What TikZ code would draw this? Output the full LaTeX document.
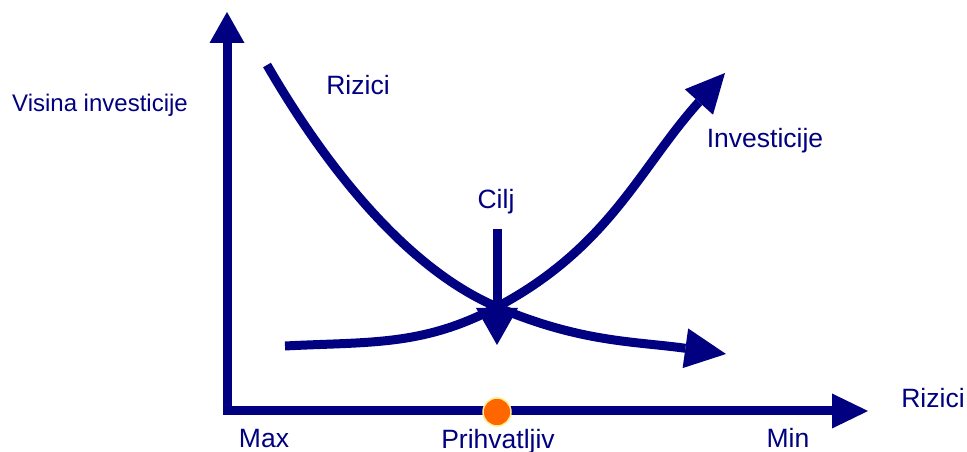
\documentclass[tikz,border=0pt]{standalone}
\usepackage{fontspec}
\setmainfont{Liberation Sans}
\usetikzlibrary{arrows.meta}

\definecolor{navy}{RGB}{0,0,128}
\definecolor{okorange}{RGB}{255,102,0}
\definecolor{okrim}{RGB}{255,236,140}

\begin{document}
\begin{tikzpicture}[
  x=1pt, y=1pt,
  lbl/.style={text=navy, inner sep=0pt, anchor=base, font=\fontsize{26.5}{30}\selectfont},
  axis/.style={draw=navy, line width=9pt},
  curve/.style={draw=navy, line width=9pt},
  okdot/.style={circle, fill=okorange, draw=okrim, line width=1.5pt, minimum size=28pt, inner sep=0pt},
]
\useasboundingbox (0,0) rectangle (967,452);
% axes
\coordinate (o) at (227,41);
\coordinate (ytip) at (227,440);
\coordinate (xtip) at (868,41);
\draw[axis, -{Triangle[length=31pt,width=35pt,line width=0pt]}] (o) -- (ytip);
\draw[axis, line cap=rect, -{Triangle[length=36pt,width=35pt,line width=0pt]}] (o) -- (xtip);
\node[okdot] (ok) at (497,40) {};

% curves
\coordinate (cilj) at (497,145);
\coordinate (rstart) at (267,387);
\coordinate (rtip) at (726,98);
\coordinate (istart) at (285,106);
\coordinate (itip) at (725,379);
\coordinate (ctop) at (497,223);
\coordinate (ctip) at (497,107);
\draw[curve, -{Triangle[length=41pt,width=40pt,line width=0pt]}]
  (rstart) to[out=-60, in=157, looseness=0.8] (cilj) to[out=-23, in=172] (rtip);
\draw[curve, -{Triangle[length=39pt,width=38pt,line width=0pt]}]
  (istart) to[out=3, in=208] (cilj) to[out=28, in=228] (itip);
\draw[curve, -{Triangle[length=37pt,width=42pt,line width=0pt]}] (ctop) -- (ctip);

% labels
\node[lbl, font=\fontsize{24}{28}\selectfont] (ylab) at (100,340) {Visina investicije};
\node[lbl] (rlab) at (358,357) {Rizici};
\node[lbl] (ilab) at (765,304) {Investicije};
\node[lbl] (clab) at (496,243) {Cilj};
\node[lbl] (xlab) at (933,44) {Rizici};
\node[lbl] (maxlab) at (264,4) {Max};
\node[lbl] (oklab) at (498,3) {Prihvatljiv};
\node[lbl] (minlab) at (788,4) {Min};
\end{tikzpicture}
\end{document}
